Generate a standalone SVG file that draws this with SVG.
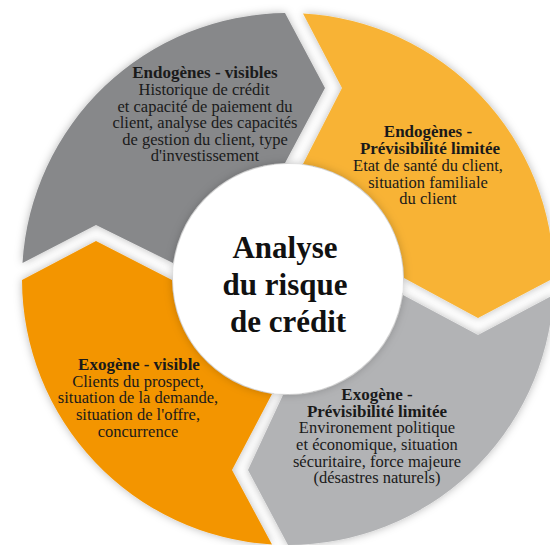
<svg xmlns="http://www.w3.org/2000/svg" width="550" height="545" viewBox="0 0 550 545">
<defs>
<filter id="sh" x="-20%" y="-20%" width="140%" height="140%">
<feDropShadow dx="0" dy="0" stdDeviation="4" flood-color="#000" flood-opacity="0.28"/>
</filter>
<filter id="shc" x="-20%" y="-20%" width="140%" height="140%">
<feDropShadow dx="0" dy="0" stdDeviation="5" flood-color="#000" flood-opacity="0.25"/>
</filter>
</defs>
<style>
.t{font-family:"Liberation Serif","Times New Roman",serif;font-size:16.5px;fill:#1a1a1a;text-anchor:middle}
.b{font-weight:bold;font-size:17px}
.title{font-family:"Liberation Serif","Times New Roman",serif;font-size:31px;font-weight:bold;fill:#111;text-anchor:middle}
</style>
<rect width="550" height="545" fill="#fff"/>
<g id="connectors"/>
<g id="node-endogenes-visibles">
<path filter="url(#sh)" fill="#87888a" d="M 22.5 263 A 266 266 0 0 1 285 13 L 325 88 L 285 163 A 116 116 0 0 0 173 263 L 96 225 Z"/>
<text class="t b" x="205" y="78">Endogènes - visibles</text>
<text class="t" x="204" y="95">Historique de crédit</text>
<text class="t" x="205" y="112">et capacité de paiement du</text>
<text class="t" x="205" y="128">client, analyse des capacités</text>
<text class="t" x="205" y="145">de gestion du client, type</text>
<text class="t" x="205" y="161">d'investissement</text>
</g>
<g id="node-endogenes-previsibilite">
<path filter="url(#sh)" fill="#f8b334" d="M 303 13.4 A 266 266 0 0 1 554 278 L 478 318 L 404 278 A 116 116 0 0 0 303 164 L 342 88 Z"/>
<text class="t b" x="428" y="137">Endogènes -</text>
<text class="t b" x="430" y="154">Prévisibilité limitée</text>
<text class="t" x="428" y="171">Etat de santé du client,</text>
<text class="t" x="428" y="188">situation familiale</text>
<text class="t" x="428" y="204">du client</text>
</g>
<g id="node-exogene-previsibilite">
<path filter="url(#sh)" fill="#b2b3b5" d="M 553.5 295 A 266 266 0 0 1 288 545 L 248 470 L 283 395 A 116 116 0 0 0 403 295 L 478 335 Z"/>
<text class="t b" x="377" y="400">Exogène -</text>
<text class="t b" x="377" y="417">Prévisibilité limitée</text>
<text class="t" x="377" y="433">Environement politique</text>
<text class="t" x="377" y="450">et économique, situation</text>
<text class="t" x="377" y="467">sécuritaire, force majeure</text>
<text class="t" x="377" y="483">(désastres naturels)</text>
</g>
<g id="node-exogene-visible">
<path filter="url(#sh)" fill="#f39502" d="M 272 544.5 A 266 266 0 0 1 22 280 L 96 241 L 172 280 A 116 116 0 0 0 272 394 L 232 470 Z"/>
<text class="t b" x="139" y="370">Exogène - visible</text>
<text class="t" x="138" y="387">Clients du prospect,</text>
<text class="t" x="138" y="403">situation de la demande,</text>
<text class="t" x="138" y="420">situation de l'offre,</text>
<text class="t" x="138" y="437">concurrence</text>
</g>
<g id="node-center">
<circle filter="url(#shc)" cx="288" cy="279" r="115" fill="#fff"/>
<text class="title" x="285" y="258">Analyse</text>
<text class="title" x="285" y="295">du risque</text>
<text class="title" x="288" y="332">de crédit</text>
</g>
</svg>
